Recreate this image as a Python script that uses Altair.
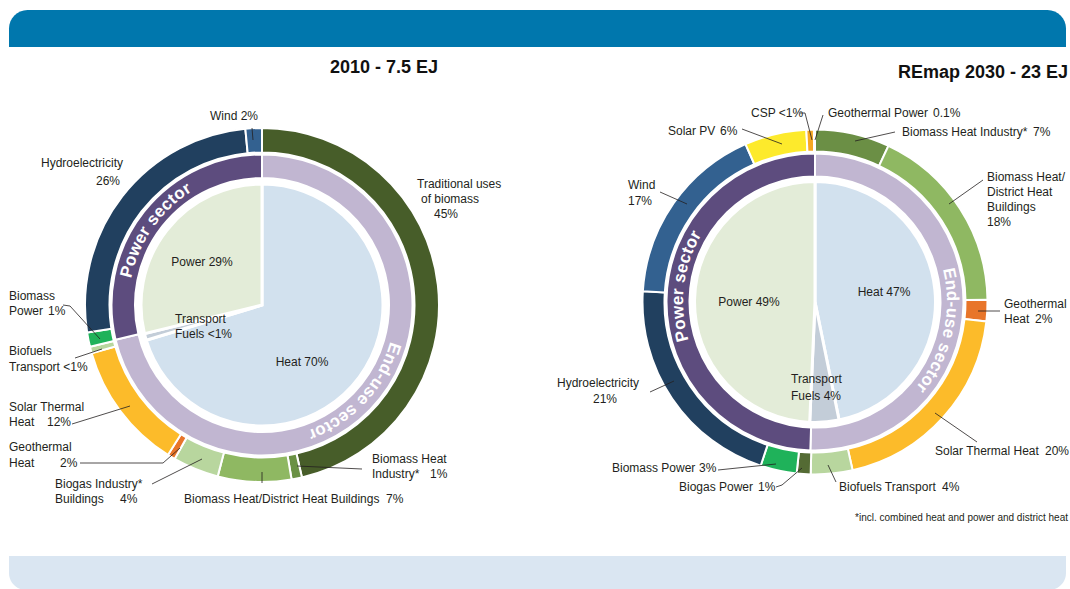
import math
import pandas as pd
import altair as alt

# ---------------- data (shares as drawn, % of each year's total) ----------------
pie_names = ["Heat", "Transport Fuels", "Power"]
pie_2010 = [70.3, 0.9, 28.8]
pie_2030 = [46.8, 3.9, 49.3]
pie_colors = ["#D2E1EE", "#C3CDD8", "#E3ECD8"]

sector_names = ["End-use sector", "Power sector"]
sector_2010 = [71.3, 28.7]
sector_2030 = [50.5, 49.5]
sector_colors = ["#C1B6D1", "#5D4C7E"]

tech_2010 = ["Traditional uses of biomass", "Biomass Heat Industry*",
             "Biomass Heat/District Heat Buildings", "Biogas Industry* Buildings",
             "Geothermal Heat", "Solar Thermal Heat", "Biofuels Transport",
             "Biomass Power", "Hydroelectricity", "Wind"]
share_2010 = [46.4, 0.95, 6.7, 4.2, 0.7, 11.7, 0.6, 1.3, 26.0, 1.5]
color_2010 = ["#475D29", "#6A9144", "#8FB862", "#B8D69E", "#E8752A", "#FCBB2A",
              "#B8D69E", "#1FB25A", "#21405F", "#336190"]

tech_2030 = ["Biomass Heat Industry*", "Biomass Heat/District Heat Buildings",
             "Geothermal Heat", "Solar Thermal Heat", "Biofuels Transport",
             "Biogas Power", "Biomass Power", "Hydroelectricity", "Wind",
             "Solar PV", "CSP", "Geothermal Power"]
share_2030 = [7.0, 17.8, 2.0, 19.7, 3.9, 1.3, 3.4, 20.9, 17.4, 5.8, 0.7, 0.1]
color_2030 = ["#6B8F45", "#8FB862", "#E8752A", "#FCBB2A", "#B8D69E", "#546B34",
              "#1FB25A", "#21405F", "#336190", "#FDEA2C", "#F7A823", "#E8752A"]

TEXT = "#231F20"
FONT = "Liberation Sans"
TAU = 2 * math.pi


def ring_df(names, values, colors):
    total = float(sum(values))
    rows, cum = [], 0.0
    for n, v, c in zip(names, values, colors):
        rows.append({"name": n, "start": cum / total * 100,
                     "end": (cum + v) / total * 100, "color": c})
        cum += v
    return pd.DataFrame(rows)


def arc_layer(df, cx, cy, r_out, r_in, sw):
    return alt.Chart(df).mark_arc(
        radius=r_out, radius2=r_in, stroke="white", strokeWidth=sw
    ).encode(
        theta=alt.Theta("start:Q", stack=None,
                        scale=alt.Scale(domain=[0, 100], range=[0, TAU])),
        theta2=alt.Theta2("end:Q"),
        color=alt.Color("color:N", scale=None),
        x=alt.value(cx), y=alt.value(cy),
    )


# ---------------- curved ring captions ----------------
W = {"P": .667, "o": .611, "w": .778, "e": .556, "r": .389, " ": .278, "s": .556,
     "c": .556, "t": .333, "E": .667, "n": .611, "d": .611, "-": .333, "u": .611}


def arc_text(text, cx, cy, r, center_deg, fs=17, spacing=0.6):
    widths = [W.get(ch, .6) * fs + spacing for ch in text]
    total = sum(widths)
    start = center_deg - math.degrees(total / r) / 2
    acc, rows = 0.0, []
    for ch, w in zip(text, widths):
        th = start + math.degrees((acc + w / 2) / r)
        acc += w
        rows.append({"ch": ch, "x": cx + r * math.sin(math.radians(th)),
                     "y": cy - r * math.cos(math.radians(th)), "rot": th % 360})
    return rows


L_CX, L_CY = 262, 305
R_CX, R_CY = 815, 302

curve_rows = (arc_text("Power sector", L_CX, L_CY, 138.5, 305)
              + arc_text("End-use sector", L_CX, L_CY, 138.5, 133)
              + arc_text("Power sector", R_CX, R_CY, 137, 277)
              + arc_text("End-use sector", R_CX, R_CY, 137, 103))
curve_df = pd.DataFrame(curve_rows)

# ---------------- label layout ----------------
left_labels = [
    ("Hydroelectricity", 41, 163), ("26%", 96, 181),
    ("Traditional uses", 417, 184), ("of biomass", 421, 199), ("45%", 434, 214),
    ("Biomass", 9, 296), ("Power", 9, 311), ("1%", 48, 311),
    ("Biofuels", 9, 351), ("Transport <1%", 9, 367),
    ("Solar Thermal", 9, 407), ("Heat", 9, 422), ("12%", 47, 422),
    ("Geothermal", 9, 447), ("Heat", 9, 463), ("2%", 60, 463),
    ("Biogas Industry*", 55, 484), ("Buildings", 55, 499), ("4%", 120, 499),
    ("Biomass Heat/District Heat Buildings", 184, 499), ("7%", 386, 499),
    ("Biomass Heat", 372, 459), ("Industry*", 372, 474), ("1%", 430, 474),
    ("Transport", 175, 319), ("Fuels <1%", 175, 334),
    ("CSP <1%", 751, 113), ("Geothermal Power", 828, 113), ("0.1%", 933, 113),
    ("Solar PV", 668, 131), ("6%", 720, 131),
    ("Biomass Heat Industry*", 902, 132), ("7%", 1033, 132),
    ("Wind", 628, 185), ("17%", 628, 201),
    ("Biomass Heat/", 987, 177), ("District Heat", 987, 192),
    ("Buildings", 987, 207), ("18%", 987, 222),
    ("Geothermal", 1004, 304), ("Heat", 1004, 319), ("2%", 1035, 319),
    ("Hydroelectricity", 557, 383), ("21%", 593, 399),
    ("Solar Thermal Heat", 935, 451), ("20%", 1045, 451),
    ("Biomass Power", 612, 468), ("3%", 699, 468),
    ("Biogas Power", 679, 487), ("1%", 758, 487),
    ("Biofuels Transport", 839, 487), ("4%", 942, 487),
    ("Transport", 791, 379), ("Fuels 4%", 791, 396),
]
center_labels = [
    ("Wind 2%", 234, 116), ("Power 29%", 202, 262), ("Heat 70%", 302, 362),
    ("Power 49%", 749, 302), ("Heat 47%", 884, 292),
]
leaders = [
    (252, 128, 253, 140),
    (63, 305, 70, 306), (70, 306, 100, 339),
    (75, 358, 102, 349),
    (72, 424, 130, 406),
    (80, 463, 163, 463), (163, 463, 180, 448),
    (152, 484, 202, 459),
    (262, 472, 262, 483),
    (297, 466, 362, 469),
    (800, 113, 805, 113), (805, 113, 812, 140),
    (823, 115, 815, 140),
    (742, 129, 782, 144),
    (895, 132, 855, 141),
    (660, 192, 687, 204),
    (983, 180, 949, 204),
    (1000, 311, 978, 311),
    (650, 392, 674, 381),
    (977, 442, 935, 413),
    (718, 470, 776, 464),
    (776, 487, 782, 485), (782, 485, 802, 468),
    (836, 482, 828, 465),
]


def lab_df(items):
    return pd.DataFrame([{"text": t, "x": x, "y": y} for t, x, y in items])


def text_layer(df, **kw):
    base = dict(baseline="middle", font=FONT, fontSize=12, color=TEXT)
    base.update(kw)
    return alt.Chart(df).mark_text(**base).encode(
        x=alt.X("x:Q", scale=None, axis=None),
        y=alt.Y("y:Q", scale=None, axis=None),
        text="text:N",
    )


blank = pd.DataFrame({"a": [0]})
header = alt.Chart(blank).mark_rect(
    color="#0077AD", cornerRadiusTopLeft=24, cornerRadiusTopRight=24
).encode(x=alt.value(9), x2=alt.value(1066), y=alt.value(10), y2=alt.value(47))
footer = alt.Chart(blank).mark_rect(
    color="#DAE6F2", cornerRadiusBottomLeft=20, cornerRadiusBottomRight=20
).encode(x=alt.value(9), x2=alt.value(1066), y=alt.value(556), y2=alt.value(590))

layers = [
    header, footer,
    arc_layer(ring_df(tech_2010, share_2010, color_2010), L_CX, L_CY, 177, 152.5, 2),
    arc_layer(ring_df(sector_names, sector_2010, sector_colors), L_CX, L_CY, 150.5, 127, 2),
    arc_layer(ring_df(pie_names, pie_2010, pie_colors), L_CX, L_CY, 121, 0, 3),
    arc_layer(ring_df(tech_2030, share_2030, color_2030), R_CX, R_CY, 172.5, 150.5, 2),
    arc_layer(ring_df(sector_names, sector_2030, sector_colors), R_CX, R_CY, 148.5, 125.5, 2),
    arc_layer(ring_df(pie_names, pie_2030, pie_colors), R_CX, R_CY, 120.5, 0, 3),
    alt.Chart(curve_df).mark_text(
        font=FONT, fontSize=17, fontWeight="bold", color="white",
        align="center", baseline="middle"
    ).encode(
        x=alt.X("x:Q", scale=None, axis=None), y=alt.Y("y:Q", scale=None, axis=None),
        text="ch:N", angle=alt.Angle("rot:Q", scale=None),
    ),
    alt.Chart(pd.DataFrame(leaders, columns=["x1", "y1", "x2", "y2"])).mark_rule(
        color=TEXT, strokeWidth=0.8
    ).encode(
        x=alt.X("x1:Q", scale=None, axis=None), y=alt.Y("y1:Q", scale=None, axis=None),
        x2="x2:Q", y2="y2:Q",
    ),
    text_layer(lab_df(left_labels), align="left"),
    text_layer(lab_df(center_labels), align="center"),
    text_layer(lab_df([("2010 - 7.5 EJ", 384, 68)]), align="center",
               fontSize=18, fontWeight="bold", color="#111111"),
    text_layer(lab_df([("REmap 2030 - 23 EJ", 1068, 73)]), align="right",
               fontSize=18, fontWeight="bold", color="#111111"),
    text_layer(lab_df([("*incl. combined heat and power and district heat", 1068, 518)]),
               align="right", fontSize=10),
]

chart = alt.layer(*layers).properties(
    width=1070, height=589, padding=0,
    autosize=alt.AutoSizeParams(type="none"),
).configure_view(stroke=None)

chart.save("out.html", embed_options={"renderer": "svg", "actions": False})
